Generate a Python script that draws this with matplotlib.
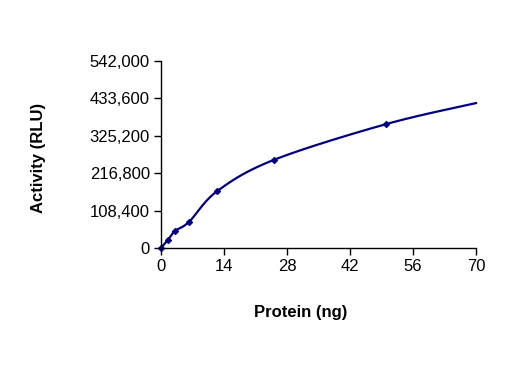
import numpy as np
import matplotlib
matplotlib.use("Agg")
import matplotlib.pyplot as plt

plt.rcParams["font.family"] = ["Liberation Sans", "DejaVu Sans"]

# 측정값
protein = [0, 1.5625, 3.125, 6.25, 12.5, 25, 50]
activity = [0, 24000, 49500, 76000, 165000, 255000, 359000]
# 곡선 끝 (마커 없음)
curve_end_x = 70
curve_end_y = 420000

x_ticks = [0, 14, 28, 42, 56, 70]
y_ticks = [0, 108400, 216800, 325200, 433600, 542000]


def _smooth(xs, ys, n=40):
    """Excel 식 부드러운 선 (Catmull-Rom 베지어)."""
    pts = np.column_stack([xs, ys]).astype(float)
    out = [pts[0]]
    for i in range(len(pts) - 1):
        p0 = pts[i - 1] if i > 0 else pts[i]
        p1, p2 = pts[i], pts[i + 1]
        p3 = pts[i + 2] if i + 2 < len(pts) else pts[i + 1]
        c1 = p1 + (p2 - p0) / 6
        c2 = p2 - (p3 - p1) / 6
        t = np.linspace(0, 1, n)[1:, None]
        seg = ((1 - t) ** 3) * p1 + 3 * ((1 - t) ** 2) * t * c1 + 3 * (1 - t) * t ** 2 * c2 + t ** 3 * p2
        out.extend(seg)
    out = np.array(out)
    return out[:, 0], out[:, 1]


fig = plt.figure(figsize=(5.07, 3.67), dpi=100)
ax = fig.add_axes([161 / 507, 1 - 248 / 367, 315 / 507, 187 / 367])

sx, sy = _smooth(protein + [curve_end_x], activity + [curve_end_y])
ax.plot(sx, sy, color="#000080", lw=1.6, clip_on=False)
ax.plot(protein, activity, ls="none", marker="D", ms=3, color="#000080", clip_on=False)

ax.set_xlim(0, 70)
ax.set_ylim(0, 542000)
ax.set_xticks(x_ticks)
ax.set_yticks(y_ticks)
ax.set_yticklabels([f"{v:,}" for v in y_ticks])
ax.tick_params(direction="out", length=5, width=1, labelsize=12, pad=3)
for s in ["top", "right"]:
    ax.spines[s].set_visible(False)
for s in ["left", "bottom"]:
    ax.spines[s].set_linewidth(1)

# 축 제목 (원본처럼 약간 치우친 위치)
fig.text(301 / 507, 1 - 313 / 367, "Protein (ng)", fontsize=12, fontweight="bold",
         ha="center", va="center")
fig.text(39 / 507, 1 - 158 / 367, "Activity (RLU)", fontsize=12, fontweight="bold",
         ha="center", va="center", rotation=90)

plt.savefig("out.png", dpi=100)
